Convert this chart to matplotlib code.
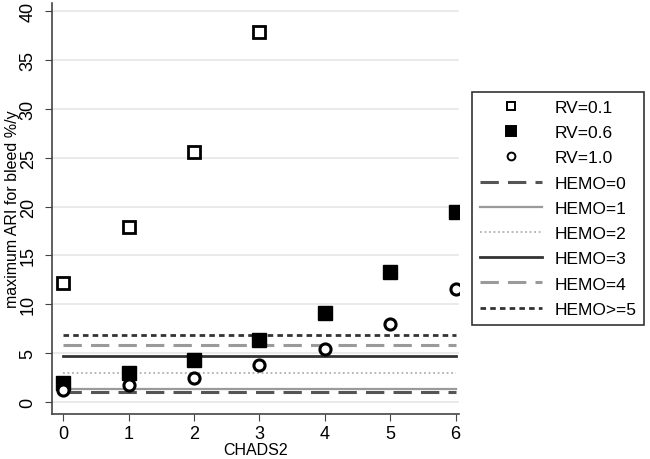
import matplotlib.pyplot as plt

plt.rcParams['font.family'] = ['Liberation Sans', 'DejaVu Sans']

chads = [0, 1, 2, 3, 4, 5, 6]
rv01 = [12.2, 17.9, 25.6, 37.8]
rv06 = [2.0, 3.0, 4.3, 6.4, 9.1, 13.3, 19.4]
rv10 = [1.2, 1.8, 2.5, 3.8, 5.4, 8.0, 11.6]

hemo_labels = ["HEMO=0", "HEMO=1", "HEMO=2", "HEMO=3", "HEMO=4", "HEMO>=5"]
hemo_values = [1.05, 1.35, 2.95, 4.7, 5.8, 6.9]
hemo_styles = [
    dict(color="#555555", lw=2.2, ls=(0, (6, 3))),
    dict(color="#9a9a9a", lw=1.6, ls="-"),
    dict(color="#b0b0b0", lw=1.3, ls=(0, (1, 1.5))),
    dict(color="#333333", lw=2.0, ls="-"),
    dict(color="#9a9a9a", lw=2.2, ls=(0, (6, 3))),
    dict(color="#333333", lw=2.0, ls=(0, (2, 1.5))),
]

fig = plt.figure(figsize=(6.5, 4.6), dpi=100)
ax = fig.add_axes([0.08, 0.098, 0.626, 0.893])

for v in range(0, 45, 5):
    ax.axhline(v, color="#e6e6e6", lw=1.2, zorder=0)

ax.plot(chads[:len(rv01)], rv01, ls="none", marker="s", ms=8, mfc="white",
        mec="black", mew=2, label="RV=0.1")
ax.plot(chads, rv06, ls="none", marker="s", ms=10, mfc="black",
        mec="black", label="RV=0.6")
ax.plot(chads, rv10, ls="none", marker="o", ms=8, mfc="white",
        mec="black", mew=2.2, label="RV=1.0")

for lab, val, st in zip(hemo_labels, hemo_values, hemo_styles):
    ax.plot(chads, [val] * len(chads), label=lab, zorder=1, **st)

ax.set_xlim(-0.17, 6.05)
ax.set_ylim(-1.2, 40.8)
ax.set_xticks(chads)
ax.set_yticks(range(0, 45, 5))
ax.tick_params(axis="y", labelrotation=90, labelsize=13, length=5,
               color="#444444", pad=6)
ax.tick_params(axis="x", labelsize=13, length=5, color="#444444", pad=3)
for lbl in ax.get_yticklabels():
    lbl.set_va("center")
for s in ["top", "right"]:
    ax.spines[s].set_visible(False)
for s in ["left", "bottom"]:
    ax.spines[s].set_color("#444444")
    ax.spines[s].set_linewidth(1.2)

ax.set_xlabel("CHADS2", fontsize=11.5, labelpad=0)
ax.set_ylabel("maximum ARI for bleed %/y", fontsize=11.5)
ax.yaxis.set_label_coords(-0.079, 0.5)

handles, labels = ax.get_legend_handles_labels()
leg = fig.legend(handles, labels, loc="upper left",
                 bbox_to_anchor=(472 / 650, 1 - 93 / 460),
                 fontsize=12.5, frameon=True, fancybox=False,
                 edgecolor="black", handlelength=3.6, labelspacing=0.58,
                 borderpad=0.45, borderaxespad=0, handletextpad=0.7,
                 markerscale=0.7)
leg.get_frame().set_linewidth(1.2)
for h in leg.legend_handles[:3]:
    h.set_markeredgewidth(1.4)

fig.savefig("out.png", dpi=100)
